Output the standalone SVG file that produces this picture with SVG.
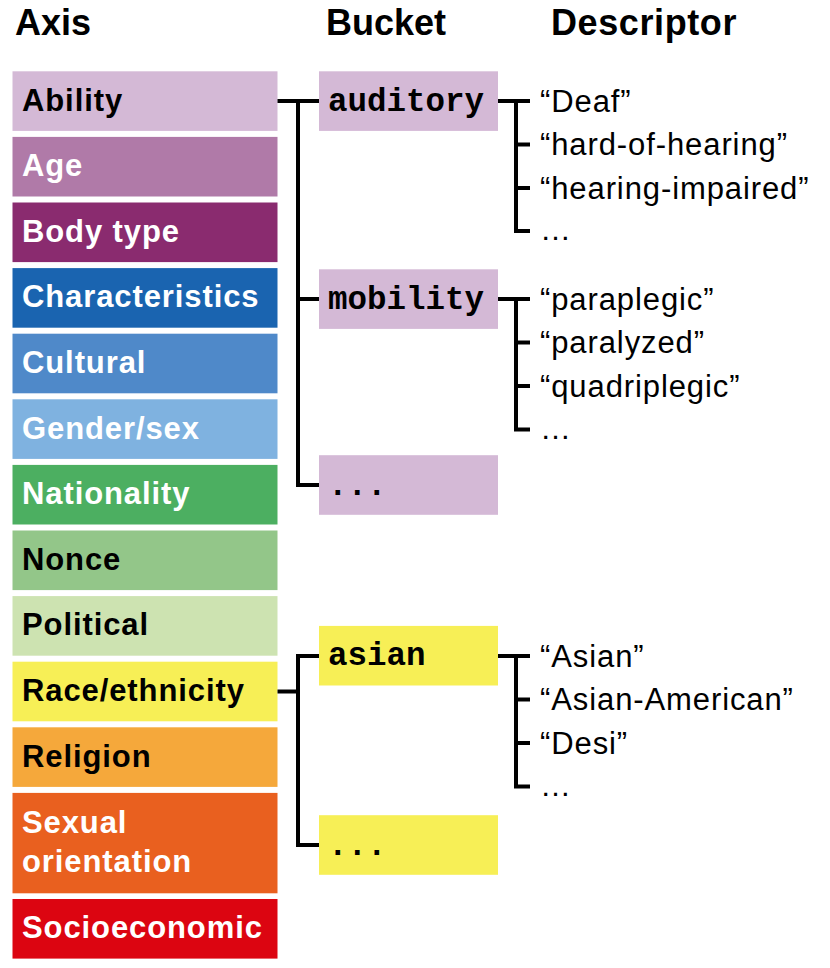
<svg xmlns="http://www.w3.org/2000/svg" width="830" height="968" viewBox="0 0 830 968">
<style>
.hdr{font-family:"Liberation Sans",Arial,Helvetica,sans-serif;font-weight:bold;font-size:36px;fill:#000}
.ax{font-family:"Liberation Sans",Arial,Helvetica,sans-serif;font-weight:bold;font-size:31px;letter-spacing:0.9px}
.w{fill:#fff}
.k{fill:#000}
.bk{font-family:"Liberation Mono","Courier New",monospace;font-weight:bold;font-size:32.5px;fill:#000}
.ds{font-family:"Liberation Sans",Arial,Helvetica,sans-serif;font-size:31px;letter-spacing:0.9px;fill:#000}
.conn{fill:none;stroke:#000;stroke-width:4;stroke-linejoin:miter;stroke-linecap:butt}
.pur{fill:#d4b9d6}
.yel{fill:#f7ef56}
</style>
<rect width="830" height="968" fill="#fff"/>
<g id="headers">
<text class="hdr" x="15" y="35">Axis</text>
<text class="hdr" x="326" y="35">Bucket</text>
<text class="hdr" x="551" y="35" letter-spacing="0.6">Descriptor</text>
</g>
<g id="axis-ability"><rect x="12.5" y="71.3" width="265" height="59.6" fill="#d4b9d6"/><text class="ax k" x="22" y="110.5">Ability</text></g>
<g id="axis-age"><rect x="12.5" y="136.9" width="265" height="59.6" fill="#b07aa8"/><text class="ax w" x="22" y="176.1">Age</text></g>
<g id="axis-bodytype"><rect x="12.5" y="202.5" width="265" height="59.6" fill="#8a2b6f"/><text class="ax w" x="22" y="241.7">Body type</text></g>
<g id="axis-characteristics"><rect x="12.5" y="268.1" width="265" height="59.6" fill="#1a64b0"/><text class="ax w" x="22" y="307.3">Characteristics</text></g>
<g id="axis-cultural"><rect x="12.5" y="333.7" width="265" height="59.6" fill="#4f89c9"/><text class="ax w" x="22" y="372.9">Cultural</text></g>
<g id="axis-gender"><rect x="12.5" y="399.3" width="265" height="59.6" fill="#7fb2e0"/><text class="ax w" x="22" y="438.5">Gender/sex</text></g>
<g id="axis-nationality"><rect x="12.5" y="464.9" width="265" height="59.6" fill="#4caf61"/><text class="ax w" x="22" y="504.1">Nationality</text></g>
<g id="axis-nonce"><rect x="12.5" y="530.5" width="265" height="59.6" fill="#93c689"/><text class="ax k" x="22" y="569.7">Nonce</text></g>
<g id="axis-political"><rect x="12.5" y="596.1" width="265" height="59.6" fill="#cde3b1"/><text class="ax k" x="22" y="635.3">Political</text></g>
<g id="axis-race"><rect x="12.5" y="661.7" width="265" height="59.6" fill="#f7ef56"/><text class="ax k" x="22" y="700.9">Race/ethnicity</text></g>
<g id="axis-religion"><rect x="12.5" y="727.3" width="265" height="59.6" fill="#f5a83b"/><text class="ax k" x="22" y="766.5">Religion</text></g>
<g id="axis-sexual"><rect x="12.5" y="792.9" width="265" height="100.4" fill="#e9601f"/><text class="ax w" x="22" y="833.3">Sexual</text><text class="ax w" x="22" y="871.7">orientation</text></g>
<g id="axis-socioeconomic"><rect x="12.5" y="899" width="265" height="59.6" fill="#dc0511"/><text class="ax w" x="22" y="938">Socioeconomic</text></g>

<g id="bucket-auditory"><rect class="pur" x="319" y="71.3" width="179" height="59.6"/><text class="bk" x="328" y="110.5">auditory</text></g>
<g id="bucket-mobility"><rect class="pur" x="319" y="269.3" width="179" height="59.6"/><text class="bk" x="328" y="308.5">mobility</text></g>
<g id="bucket-ability-more"><rect class="pur" x="319" y="455.2" width="179" height="59.6"/><text class="bk" x="328" y="495">...</text></g>
<g id="bucket-asian"><rect class="yel" x="319" y="625.9" width="179" height="59.6"/><text class="bk" x="328" y="665.2">asian</text></g>
<g id="bucket-race-more"><rect class="yel" x="319" y="815.2" width="179" height="59.6"/><text class="bk" x="328" y="855">...</text></g>

<g id="desc-auditory">
<text class="ds" x="540" y="111.5">“Deaf”</text>
<text class="ds" x="540" y="155">“hard-of-hearing”</text>
<text class="ds" x="540" y="198.5">“hearing-impaired”</text>
<text class="ds" x="540" y="240">…</text>
</g>
<g id="desc-mobility">
<text class="ds" x="540" y="309.5">“paraplegic”</text>
<text class="ds" x="540" y="353">“paralyzed”</text>
<text class="ds" x="540" y="396.5">“quadriplegic”</text>
<text class="ds" x="540" y="438.5">…</text>
</g>
<g id="desc-asian">
<text class="ds" x="540" y="666.5">“Asian”</text>
<text class="ds" x="540" y="710">“Asian-American”</text>
<text class="ds" x="540" y="753.5">“Desi”</text>
<text class="ds" x="540" y="795.5">…</text>
</g>

<g id="connectors" class="conn">
<path d="M277.5,101 H319"/>
<path d="M298,99 V485 H319"/>
<path d="M298,299 H319"/>
<path d="M277.5,691.5 H298"/>
<path d="M319,656 H298 V845 H319"/>
<path d="M498,101 H530"/>
<path d="M516,99 V231 H530"/>
<path d="M516,144.5 H530"/>
<path d="M516,188 H530"/>
<path d="M498,299 H530"/>
<path d="M516,297 V429.5 H530"/>
<path d="M516,342.5 H530"/>
<path d="M516,386 H530"/>
<path d="M498,656 H530"/>
<path d="M516,654 V786.5 H530"/>
<path d="M516,699.5 H530"/>
<path d="M516,743 H530"/>
</g>
</svg>
